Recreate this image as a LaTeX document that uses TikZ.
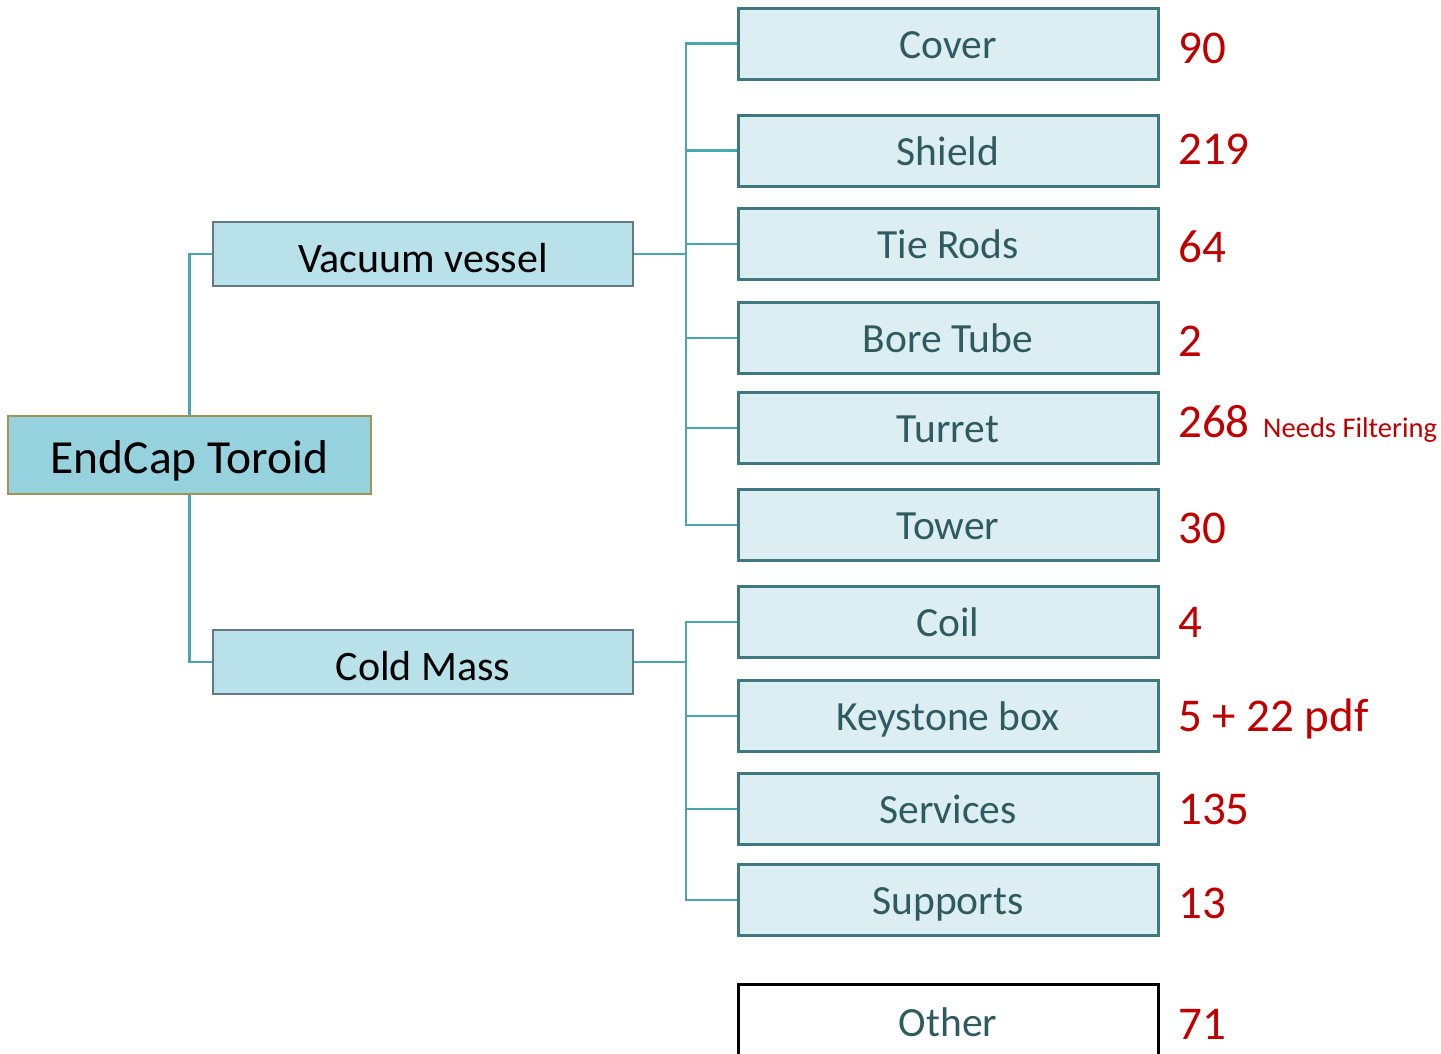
\documentclass[tikz,border=0pt]{standalone}
\usepackage{fontspec}
\setmainfont{Carlito}
\definecolor{rootfill}{HTML}{96D2DE}
\definecolor{rootdraw}{HTML}{A39352}
\definecolor{midfill}{HTML}{B8E1E9}
\definecolor{middraw}{HTML}{667788}
\definecolor{kidfill}{HTML}{DCEEF2}
\definecolor{kiddraw}{HTML}{3F7880}
\definecolor{kidtext}{HTML}{2E5B60}
\definecolor{conncol}{HTML}{4BA5B1}
\definecolor{numred}{HTML}{C00000}
\tikzset{
  rootbox/.style={draw=rootdraw, fill=rootfill, line width=2.5pt, minimum width=363pt, minimum height=78pt, inner sep=0pt, text height=36pt, text depth=0pt, font=\fontsize{47.5}{52}\selectfont, text=black},
  midbox/.style={draw=middraw, fill=midfill, line width=2.5pt, minimum width=420pt, minimum height=64pt, inner sep=0pt, text height=36pt, text depth=0pt, font=\fontsize{42}{46}\selectfont, text=black},
  kidbox/.style={draw=kiddraw, fill=kidfill, line width=3pt, minimum width=420pt, minimum height=71pt, inner sep=0pt, text height=29pt, text depth=0pt, font=\fontsize{41.5}{45}\selectfont, text=kidtext},
  otherbox/.style={draw=black, fill=white, line width=3pt, minimum width=420pt, minimum height=76pt, inner sep=0pt, text height=29pt, text depth=0pt, font=\fontsize{41.5}{45}\selectfont, text=kidtext},
  num/.style={anchor=base west, inner sep=0pt, text=numred, font=\fontsize{47}{51}\selectfont},
  note/.style={anchor=base west, inner sep=0pt, text=numred, font=\fontsize{28.5}{31}\selectfont},
  conn/.style={draw=conncol, line width=2.8pt}
}
\begin{document}
\begin{tikzpicture}[x=1pt,y=-1pt]
\useasboundingbox (0,0) rectangle (1441,1053);
% root and middle
\node[rootbox] (root) at (189.5,455) {EndCap Toroid};
\node[midbox] (vv) at (423,254) {Vacuum vessel};
\node[midbox] (cm) at (423,662) {Cold Mass};
% children
\node[kidbox] (cover) at (948,43.5) {Cover};
\node[kidbox] (shield) at (948,150.5) {Shield};
\node[kidbox] (tie) at (948,244) {Tie Rods};
\node[kidbox] (bore) at (948,338) {Bore Tube};
\node[kidbox] (turret) at (948,428) {Turret};
\node[kidbox] (tower) at (948,525) {Tower};
\node[kidbox] (coil) at (948,622) {Coil};
\node[kidbox] (key) at (948,716) {Keystone box};
\node[kidbox] (serv) at (948,809) {Services};
\node[kidbox] (supp) at (948,900) {Supports};
\node[otherbox] (other) at (948,1022) {Other};
% numbers
\node[num] (n1) at (1178,63) {90};
\node[num] (n2) at (1178,164) {219};
\node[num] (n3) at (1178,262) {64};
\node[num] (n4) at (1178,356) {2};
\node[num] (n5) at (1178,437) {268};
\node[note] (n5b) at (1263,437) {Needs Filtering};
\node[num] (n6) at (1178,543) {30};
\node[num] (n7) at (1178,637) {4};
\node[num] (n8) at (1178,731) {5 + 22 pdf};
\node[num] (n9) at (1178,824) {135};
\node[num] (n10) at (1178,918) {13};
\node[num] (n11) at (1178,1039) {71};
% connectors
\draw[conn] (root.north) |- (vv.west);
\draw[conn] (root.south) |- (cm.west);
\coordinate (vvj) at (686,254);
\coordinate (cmj) at (686,662);
\draw[conn] (vv.east) -- (vvj);
\draw[conn] (cm.east) -- (cmj);
\foreach \k in {cover,shield,tie,bore,turret,tower}{
  \draw[conn] (vvj) |- (\k.west);
}
\foreach \k in {coil,key,serv,supp}{
  \draw[conn] (cmj) |- (\k.west);
}
\end{tikzpicture}
\end{document}
